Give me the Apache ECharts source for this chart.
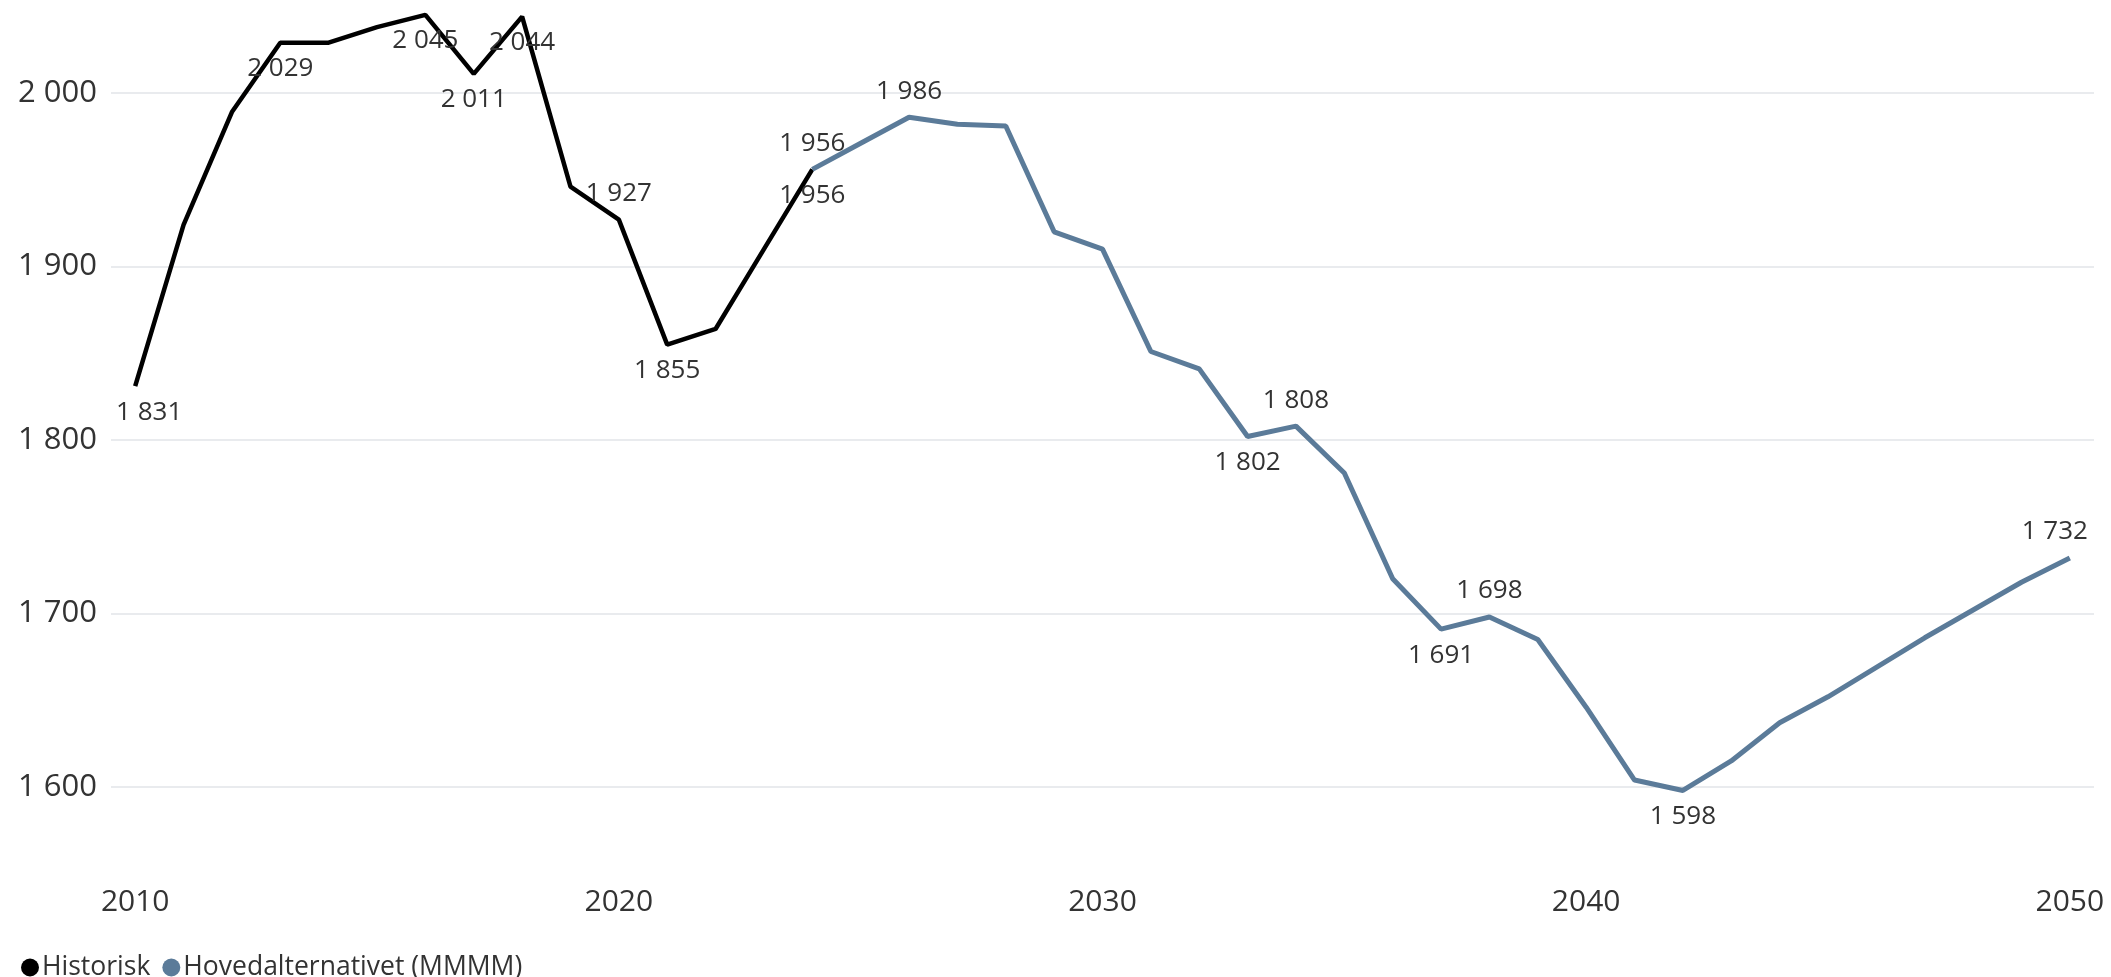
<!DOCTYPE html>
<html>
<head>
<meta charset="utf-8">
<script src="https://cdn.jsdelivr.net/npm/echarts@6/dist/echarts.min.js"></script>
<style>
    html, body { margin: 0; padding: 0; background: #fff; }
    #chart { width: 2111px; height: 977px; }
</style>
</head>
<body>
<div id="chart"></div>
<script>
    // years on the x axis
    var years = [];
    for (var y = 2010; y <= 2050; y++) years.push(String(y));

    // Historisk 2010-2024
    var historisk = [1831, 1924, 1989, 2029, 2029, 2038, 2045, 2011, 2044, 1946, 1927, 1855, 1864, 1910, 1956];
    // Hovedalternativet (MMMM) 2024-2050
    var hovedalt = [1956, 1971, 1986, 1982, 1981, 1920, 1910, 1851, 1841, 1802, 1808, 1781, 1720, 1691, 1698,
                    1685, 1646, 1604, 1598, 1615, 1637, 1652, 1669, 1686, 1702, 1718, 1732];
    var hovedaltStart = '2024';

    // which points carry a value label, and on which side
    var histLabels = { '2010': 'bottom', '2013': 'bottom', '2016': 'bottom', '2017': 'bottom',
                       '2018': 'bottom', '2020': 'top', '2021': 'bottom', '2024': 'bottom' };
    var projLabels = { '2024': 'top', '2026': 'top', '2033': 'bottom', '2034': 'top',
                       '2037': 'bottom', '2038': 'top', '2042': 'bottom', '2050': 'top' };
    var labelShift = { '2010': [14, 0], '2050': [-15, 0] };

    var yTicks = { min: 1600, max: 2000, interval: 100 };

    function fmt(v) {
        return String(v).replace(/\B(?=(\d{3})+(?!\d))/g, ' ');
    }

    function buildData(values, startYear, labels) {
        var start = years.indexOf(startYear);
        return years.map(function (yr, i) {
            var v = (i >= start && i - start < values.length) ? values[i - start] : null;
            var item = { value: v };
            if (v !== null && labels[yr]) {
                item.label = { show: true, position: labels[yr], offset: labelShift[yr] || [0, 0] };
            }
            return item;
        });
    }

    var FONT = '"Open Sans", "Noto Sans", sans-serif';

    var chart = echarts.init(document.getElementById('chart'));
    var labelStyle = {
        show: false,
        color: '#333',
        fontFamily: FONT,
        fontSize: 26,
        distance: 13,
        formatter: function (p) { return fmt(p.value); }
    };

    var option = {
        backgroundColor: '#fff',
        animation: false,
        legend: {
            left: 16,
            top: 949,
            icon: 'circle',
            itemWidth: 18,
            itemHeight: 18,
            itemGap: 12,
            textStyle: { color: '#333', fontFamily: FONT, fontSize: 26.5, padding: [0, 0, 0, -2] },
            data: ['Historisk', 'Hovedalternativet (MMMM)']
        },
        grid: {
            left: 111,
            right: 17,
            top: 93,
            bottom: 190
        },
        xAxis: {
            type: 'category',
            data: years,
            boundaryGap: true,
            axisLine: { show: false },
            axisTick: { show: false },
            axisLabel: {
                interval: 9,
                margin: 100,
                color: '#333',
                fontFamily: FONT,
                fontSize: 30
            },
            splitLine: { show: false }
        },
        yAxis: {
            type: 'value',
            min: yTicks.min,
            max: yTicks.max,
            interval: yTicks.interval,
            axisLine: { show: false },
            axisTick: { show: false },
            axisLabel: {
                margin: 14,
                color: '#333',
                fontFamily: FONT,
                fontSize: 31,
                formatter: fmt
            },
            splitLine: { lineStyle: { color: '#e9ebee', width: 2 } }
        },
        series: [
            {
                name: 'Historisk',
                type: 'line',
                color: '#000',
                clip: false,
                silent: true,
                symbol: 'circle',
                symbolSize: 0,
                itemStyle: { borderWidth: 0 },
                lineStyle: { color: '#000', width: 4.5 },
                label: labelStyle,
                data: buildData(historisk, '2010', histLabels)
            },
            {
                name: 'Hovedalternativet (MMMM)',
                type: 'line',
                color: '#5b7b99',
                clip: false,
                silent: true,
                symbol: 'circle',
                symbolSize: 0,
                itemStyle: { borderWidth: 0 },
                lineStyle: { color: '#5b7b99', width: 5 },
                label: labelStyle,
                data: buildData(hovedalt, hovedaltStart, projLabels)
            }
        ]
    };

    chart.setOption(option);
</script>
</body>
</html>
